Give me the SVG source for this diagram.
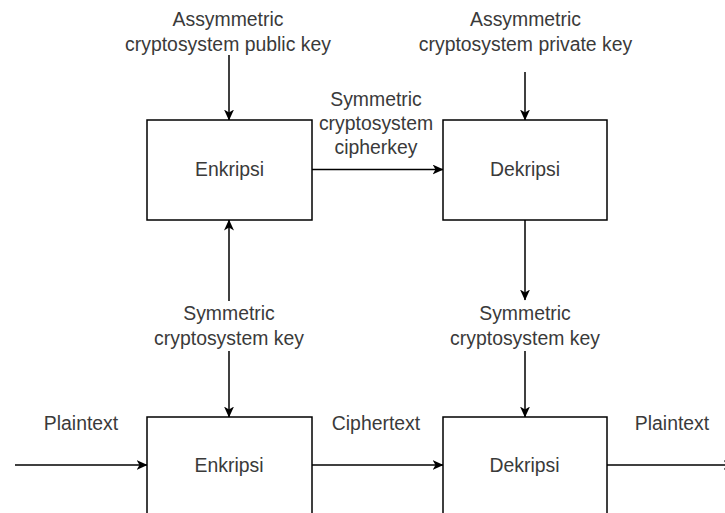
<svg xmlns="http://www.w3.org/2000/svg" width="725" height="513" viewBox="0 0 725 513">
  <style>
    .box { fill: #ffffff; stroke: #000000; stroke-width: 1.5; }
    .edge { fill: none; stroke: #000000; stroke-width: 1.5; marker-end: url(#arrow); }
    .lbl { font-family: "Liberation Sans", Arial, sans-serif; font-size: 19.4px; fill: #3a3a3a; text-anchor: middle; }
  </style>
  <defs>
    <marker id="arrow" markerUnits="userSpaceOnUse" viewBox="0 0 11 10" refX="10.5" refY="5" markerWidth="11" markerHeight="10" orient="auto">
      <path d="M0,0 L11,5 L0,10 L3,5 Z" fill="#000000"/>
    </marker>
  </defs>
  <rect width="725" height="513" fill="#ffffff"/>

  <!-- connectors -->
  <g id="connectors">
    <path class="edge" d="M229,55 L229,120"/>
    <path class="edge" d="M525,72 L525,120"/>
    <path class="edge" d="M312,169.5 L443,169.5"/>
    <path class="edge" d="M229,301 L229,220"/>
    <path class="edge" d="M229,351 L229,417"/>
    <path class="edge" d="M525,220 L525,300"/>
    <path class="edge" d="M525,351 L525,417"/>
    <path class="edge" d="M15,465 L147,465"/>
    <path class="edge" d="M312,465 L443,465"/>
    <path class="edge" d="M607,465 L734,465"/>
  </g>

  <!-- processing blocks -->
  <g id="enkripsi-top">
    <rect class="box" x="147" y="120" width="165" height="100"/>
    <text class="lbl" x="229.5" y="176">Enkripsi</text>
  </g>
  <g id="dekripsi-top">
    <rect class="box" x="443" y="120" width="164" height="100"/>
    <text class="lbl" x="525" y="176">Dekripsi</text>
  </g>
  <g id="enkripsi-bottom">
    <rect class="box" x="147" y="417" width="165" height="100"/>
    <text class="lbl" x="229" y="471.5">Enkripsi</text>
  </g>
  <g id="dekripsi-bottom">
    <rect class="box" x="443" y="417" width="164" height="100"/>
    <text class="lbl" x="524.5" y="471.5">Dekripsi</text>
  </g>

  <!-- key and data labels -->
  <g id="public-key">
    <text class="lbl" x="228" y="26">Assymmetric</text>
    <text class="lbl" x="228" y="51">cryptosystem public key</text>
  </g>
  <g id="private-key">
    <text class="lbl" x="525.5" y="26">Assymmetric</text>
    <text class="lbl" x="525.5" y="51">cryptosystem private key</text>
  </g>
  <g id="cipherkey">
    <text class="lbl" x="376" y="106">Symmetric</text>
    <text class="lbl" x="376" y="130">cryptosystem</text>
    <text class="lbl" x="376" y="154">cipherkey</text>
  </g>
  <g id="sym-key-left">
    <text class="lbl" x="229" y="320">Symmetric</text>
    <text class="lbl" x="229" y="344.5">cryptosystem key</text>
  </g>
  <g id="sym-key-right">
    <text class="lbl" x="525" y="320">Symmetric</text>
    <text class="lbl" x="525" y="344.5">cryptosystem key</text>
  </g>
  <g id="plaintext-in">
    <text class="lbl" x="81" y="430">Plaintext</text>
  </g>
  <g id="ciphertext">
    <text class="lbl" x="376" y="430">Ciphertext</text>
  </g>
  <g id="plaintext-out">
    <text class="lbl" x="672" y="430">Plaintext</text>
  </g>
</svg>
